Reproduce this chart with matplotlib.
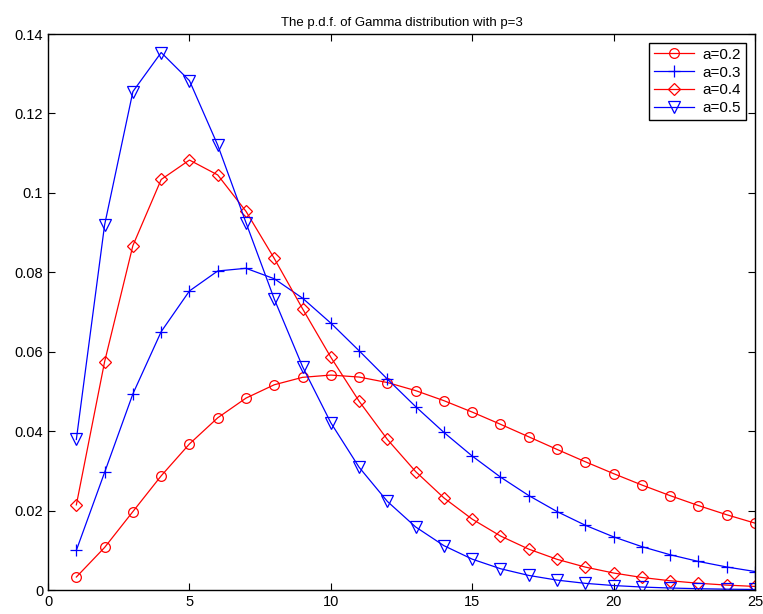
import numpy as np
import matplotlib.pyplot as plt

x = list(range(1, 26))
# values
a02 = [0.00328, 0.01073, 0.01976, 0.02876, 0.03679, 0.04337, 0.04833, 0.05169, 0.05356, 0.05413,
       0.05363, 0.05225, 0.05021, 0.04768, 0.04481, 0.04174, 0.03858, 0.03541, 0.03230, 0.02931,
       0.02645, 0.02377, 0.02127, 0.01896, 0.01685]
a03 = [0.01000, 0.02964, 0.04940, 0.06506, 0.07531, 0.08034, 0.08101, 0.07838, 0.07349, 0.06721,
       0.06025, 0.05312, 0.04618, 0.03968, 0.03374, 0.02844, 0.02379, 0.01976, 0.01631, 0.01339,
       0.01093, 0.00889, 0.00720, 0.00581, 0.00467]
a04 = [0.02145, 0.05751, 0.08674, 0.10337, 0.10827, 0.10451, 0.09535, 0.08348, 0.07082, 0.05861,
       0.04754, 0.03792, 0.02983, 0.02319, 0.01785, 0.01361, 0.01030, 0.00774, 0.00578, 0.00429,
       0.00317, 0.00234, 0.00171, 0.00125, 0.00091]
a05 = [0.03791, 0.09197, 0.12551, 0.13534, 0.12826, 0.11202, 0.09248, 0.07326, 0.05624, 0.04211,
       0.03091, 0.02231, 0.01588, 0.01117, 0.00778, 0.00537, 0.00368, 0.00250, 0.00169, 0.00114,
       0.00076, 0.00051, 0.00034, 0.00022, 0.00015]

plt.rcParams['font.family'] = ['Liberation Sans', 'DejaVu Sans']
fig = plt.figure(figsize=(7.63, 6.14), dpi=100)
ax = fig.add_axes([0.063, 0.039, 0.9265, 0.9056])

ax.plot(x, a02, '-o', color='red', mfc='none', ms=7, lw=0.9, mew=0.9, label='a=0.2')
ax.plot(x, a03, '-+', color='blue', ms=8, lw=0.9, mew=0.9, label='a=0.3')
ax.plot(x, a04, '-D', color='red', mfc='none', ms=6, lw=0.9, mew=0.9, label='a=0.4')
ax.plot(x, a05, '-v', color='blue', mfc='none', ms=8, lw=0.9, mew=0.9, label='a=0.5')

ax.set_xlim(0, 25)
ax.set_ylim(0, 0.14)
ax.set_xticks([0, 5, 10, 15, 20, 25])
ax.set_yticks([0, 0.02, 0.04, 0.06, 0.08, 0.1, 0.12, 0.14])
ax.set_yticklabels(['0', '0.02', '0.04', '0.06', '0.08', '0.1', '0.12', '0.14'])
ax.tick_params(direction='in', length=5, labelsize=10.5, top=True, right=True)
for s in ax.spines.values():
    s.set_linewidth(1.0)
ax.set_title('The p.d.f. of Gamma distribution with p=3', fontsize=9.5)

leg = ax.legend(loc='upper right', fontsize=11, fancybox=False, framealpha=1,
                edgecolor='black', borderaxespad=0.6, handlelength=2.6, borderpad=0.3,
                labelspacing=0.25, handletextpad=0.6)
leg.get_frame().set_linewidth(1.0)

fig.savefig('out.png', dpi=100)
